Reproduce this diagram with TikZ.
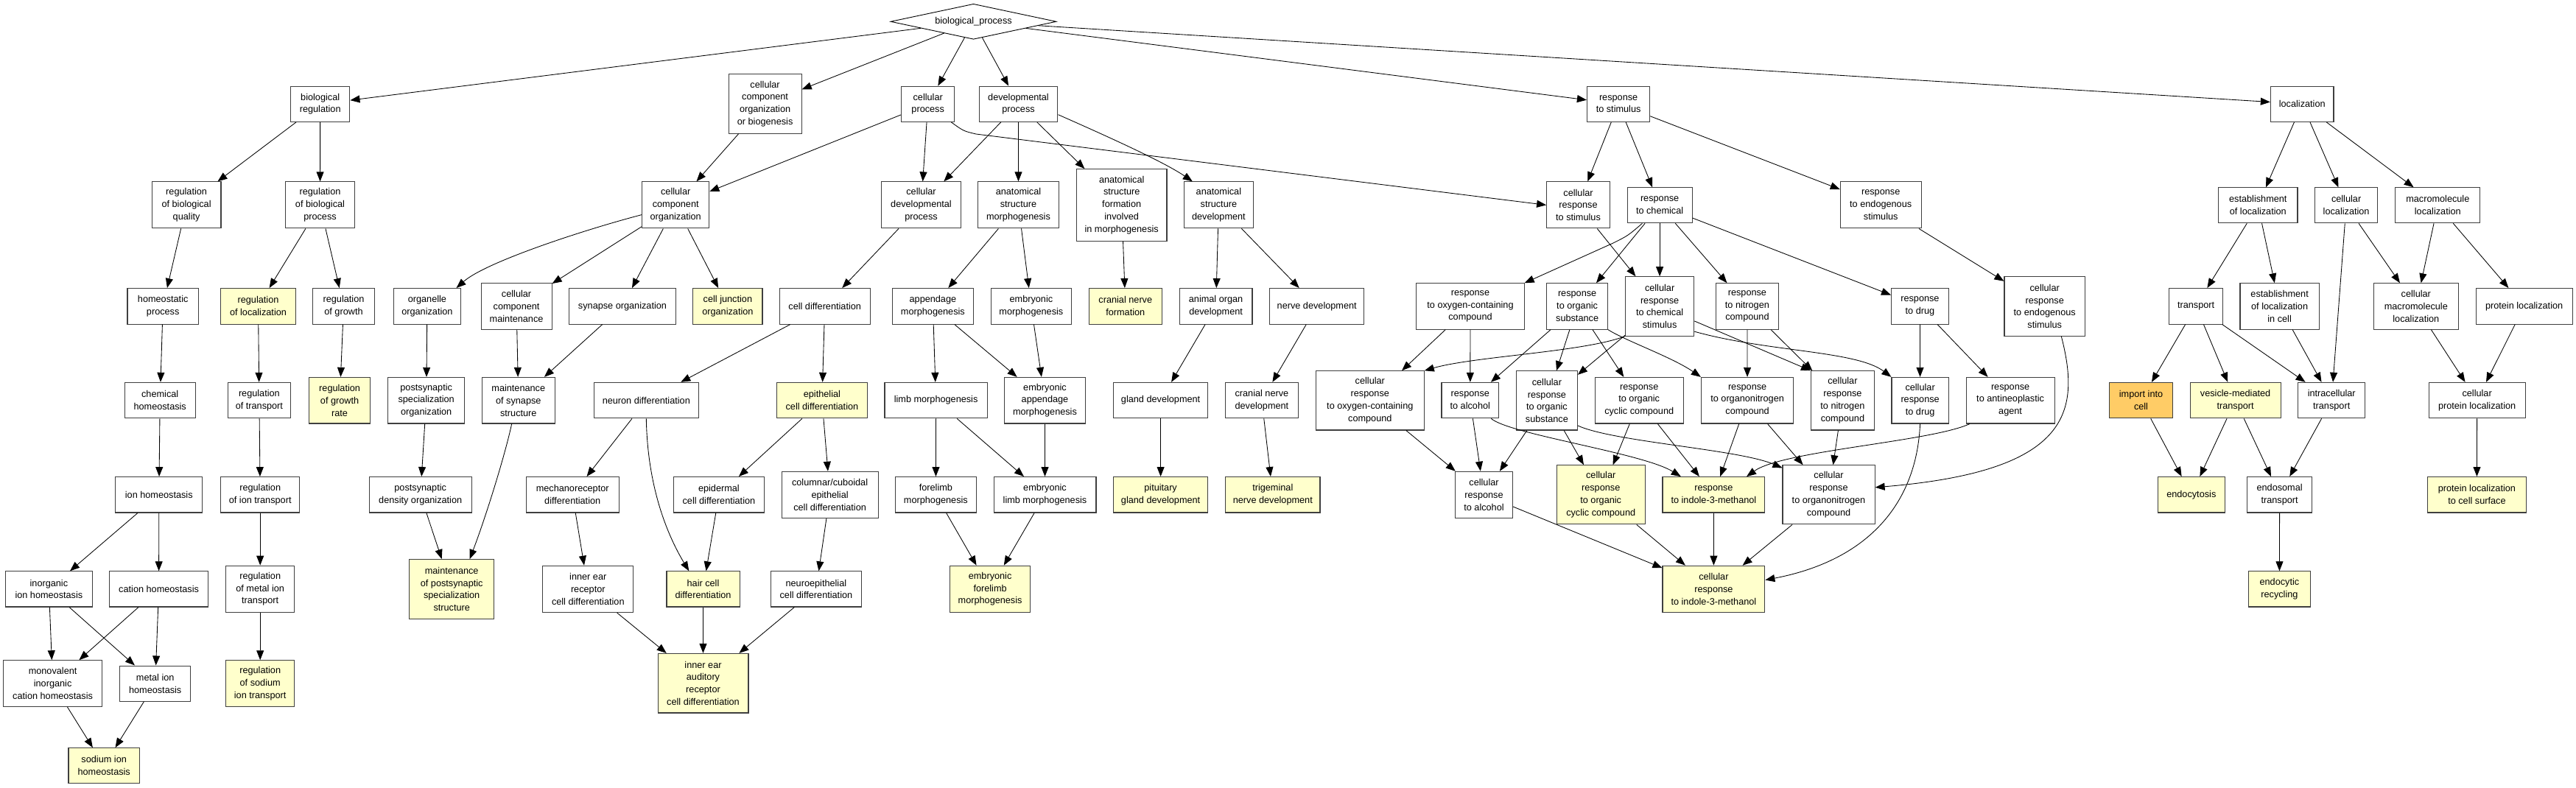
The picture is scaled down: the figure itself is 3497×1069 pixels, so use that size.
\documentclass[tikz,border=0pt]{standalone}
\usepackage{fontspec}
\setmainfont{Liberation Sans}
\usepackage{xcolor}
\usepackage{tikz}
\usetikzlibrary{arrows.meta,shapes.geometric}

\definecolor{termline}{HTML}{3F3F3F}
\definecolor{hitfill}{HTML}{FFFFCC}
\definecolor{bestfill}{HTML}{FFCC66}

\begin{document}
\begin{tikzpicture}[x=1pt, y=-1pt,
  goterm/.style={draw=termline, line width=1.1pt, fill=white, align=center, inner sep=1pt,
    font=\fontsize{12.7}{16.8}\selectfont},
  hit/.style={goterm, fill=hitfill},
  besthit/.style={goterm, fill=bestfill},
  isa/.style={line width=0.85pt, -{Triangle[length=13pt,width=10pt]}}]
\useasboundingbox (0,0) rectangle (3497,1069);

\node[diamond, draw, line width=0.9pt, aspect=4.7, minimum width=225pt, minimum height=48pt,
  inner sep=0pt, font=\fontsize{12.7}{16.8}\selectfont] (bp) at (1321.5,29.3) {biological\_process};

\foreach \n/\x/\y/\w/\h/\t in {
    bioreg/434.7/141.2/80.4/48.2/biological\\regulation,
    ccob/1038.6/141.0/99.1/80.2/cellular\\component\\organization\\or biogenesis,
    cp/1259.7/141.2/72.3/48.2/cellular\\process,
    dev/1382.5/141.2/106.8/48.2/developmental\\process,
    rs/2197.1/141.2/85.3/48.2/response\\to stimulus,
    loc/3125.2/141.2/85.6/48.2/localization,
    rbq/253.1/278.4/93.8/63/regulation\\of biological\\quality,
    rbp/434.5/278.4/93.8/63/regulation\\of biological\\process,
    cco/917.2/278.4/91.1/63/cellular\\component\\organization,
    cdp/1250.5/278.4/107.5/63/cellular\\developmental\\process,
    asm/1382.5/278.4/109.8/63/anatomical\\structure\\morphogenesis,
    asf/1522.7/278.4/122.5/97.5/anatomical\\structure\\formation\\involved\\in morphogenesis,
    asd/1654.4/278.4/93.4/63/anatomical\\structure\\development,
    crs/2142.5/278.4/85.7/63/cellular\\response\\to stimulus,
    rc/2253.1/278.8/88/47.9/response\\to chemical,
    res/2553.2/278.4/109.8/63/response\\to endogenous\\stimulus,
    estl/3065.3/278.8/107.3/47.9/establishment\\of localization,
    cloc/3185.1/278.8/85.3/47.9/cellular\\localization,
    mloc/3309.3/278.8/115/47.9/macromolecule\\localization,
    homeo/221.2/415.8/96.4/48.5/homeostatic\\process,
    rgrow/466.5/415.8/83.4/48.5/regulation\\of growth,
    orgorg/579.9/415.8/90.6/48.5/organelle\\organization,
    ccm/701.1/415.9/96/62.3/cellular\\component\\maintenance,
    synorg/845/415.8/144.2/48.5/synapse organization,
    celld/1119.7/415.8/122.7/48.5/cell differentiation,
    appm/1266.4/415.8/109.4/48.5/appendage\\morphogenesis,
    embm/1399.9/415.8/109.4/48.5/embryonic\\morphogenesis,
    aod/1650.6/415.8/98.7/48.5/animal organ\\development,
    nerved/1787.7/415.8/128/48.5/nerve development,
    roxy/1996/415.9/146.2/62.3/response\\to oxygen-containing\\compound,
    ros/2141.1/415.9/82.7/62.3/response\\to organic\\substance,
    crcs/2253.1/415.9/93.3/80.3/cellular\\response\\to chemical\\stimulus,
    rnc/2371.9/415.9/85.3/62.3/response\\to nitrogen\\compound,
    rd/2606.4/415.8/77.7/48.5/response\\to drug,
    cres/2775.7/415.9/109.5/80.3/cellular\\response\\to endogenous\\stimulus,
    trans/2981.1/415.8/72.4/48.5/transport,
    estlc/3094.6/415.9/107.3/62.3/establishment\\of localization\\in cell,
    cmloc/3279.8/415.9/114.6/62.3/cellular\\macromolecule\\localization,
    protl/3426.6/415.8/130.9/48.5/protein localization,
    chemh/217.2/543.6/96/48.5/chemical\\homeostasis,
    rtrans/351.9/543.6/85.3/48.5/regulation\\of transport,
    pso/578.7/543.7/103.6/62.6/postsynaptic\\specialization\\organization,
    mss/703.8/543.7/99.1/62.6/maintenance\\of synapse\\structure,
    neurd/877.3/543.6/141.6/48.5/neuron differentiation,
    limbm/1270.6/543.6/139.3/48.5/limb morphogenesis,
    embam/1418.5/543.7/109.8/62.6/embryonic\\appendage\\morphogenesis,
    glandd/1575.6/543.6/128.6/48.5/gland development,
    cnd/1712.9/543.6/98.6/48.5/cranial nerve\\development,
    crocc/1859.8/543.9/146.9/80.2/cellular\\response\\to oxygen-containing\\compound,
    ra/1995.8/543.6/77.6/48.5/response\\to alcohol,
    cros/2099.9/543.9/83/80.2/cellular\\response\\to organic\\substance,
    rocc/2225.2/543.7/120.2/62.6/response\\to organic\\cyclic compound,
    ronc/2372.1/543.7/125.4/62.6/response\\to organonitrogen\\compound,
    crnc/2501.4/543.9/85.7/80.2/cellular\\response\\to nitrogen\\compound,
    crd/2606.6/543.7/77.3/62.6/cellular\\response\\to drug,
    rant/2729.1/543.7/120.1/62.6/response\\to antineoplastic\\agent,
    itr/3165.2/543.6/91/48.5/intracellular\\transport,
    cprotl/3362.6/543.6/131/48.5/cellular\\protein localization,
    ionh/215.8/671.8/117.8/48.4/ion homeostasis,
    riont/353.2/671.8/107.2/48.4/regulation\\of ion transport,
    psd/570.7/671.8/138.8/48.4/postsynaptic\\density organization,
    mechd/777.2/671.8/125.9/48.4/mechanoreceptor\\differentiation,
    epidd/975.9/671.8/122.9/48.4/epidermal\\cell differentiation,
    colcd/1126.6/671.8/131.1/63/columnar\slash cuboidal\\epithelial\\cell differentiation,
    forem/1270.4/671.8/109.8/48.4/forelimb\\morphogenesis,
    emblm/1418.5/671.8/138.9/48.4/embryonic\\limb morphogenesis,
    cra/2014.5/671.8/77.7/63/cellular\\response\\to alcohol,
    crono/2482.5/671.8/125.1/80.1/cellular\\response\\to organonitrogen\\compound,
    endos/3094.6/671.8/88.3/48.4/endosomal\\transport,
    inorg/66.4/799.9/117.4/48.1/inorganic\\ion homeostasis,
    cath/215.6/799.9/133.5/48.1/cation homeostasis,
    rmetal/353.2/799.8/93.4/63.3/regulation\\of metal ion\\transport,
    ierd/798.3/799.9/122.8/63.3/inner ear\\receptor\\cell differentiation,
    neped/1107.9/799.9/122.8/48.1/neuroepithelial\\cell differentiation,
    monov/71.6/928.1/133.9/62.6/monovalent\\inorganic\\cation homeostasis,
    metalh/210.7/928.1/96.1/48.1/metal ion\\homeostasis}
  \node[goterm, minimum width=\w pt, minimum height=\h pt] (\n) at (\x,\y) {\t};

\foreach \n/\x/\y/\w/\h/\t in {
    rloc/350.5/415.8/101.8/48.5/regulation\\of localization,
    cjo/987.9/415.8/94.2/48.5/cell junction\\organization,
    cnf/1527.8/415.8/98.7/48.5/cranial nerve\\formation,
    rgrate/461.1/543.7/82.6/62.6/regulation\\of growth\\rate,
    epid/1115.9/543.6/122.8/48.5/epithelial\\cell differentiation,
    ves/3034.6/543.6/123/48.5/vesicle-mediated\\transport,
    pitd/1575.6/671.8/128.6/48.4/pituitary\\gland development,
    trigd/1727.8/671.8/128.4/48.4/trigeminal\\nerve development,
    crocyc/2173.2/671.8/120.2/80.1/cellular\\response\\to organic\\cyclic compound,
    ri3m/2326.4/671.8/138.8/48.4/response\\to indole-3-methanol,
    endoc/2974.8/671.8/91/48.4/endocytosis,
    plcs/3362.4/671.8/133.6/48.4/protein localization\\to cell surface,
    mpss/613.2/799.9/115.1/80.5/maintenance\\of postsynaptic\\specialization\\structure,
    hcd/954.5/799.9/99.1/48.1/hair cell\\differentiation,
    embfm/1344.1/799.9/109.5/63.3/embryonic\\forelimb\\morphogenesis,
    cri3m/2326.4/799.9/138.8/63.3/cellular\\response\\to indole-3-methanol,
    endrec/3094.4/799.9/83.4/48.1/endocytic\\recycling,
    rsod/353.2/928.1/93.4/62.6/regulation\\of sodium\\ion transport,
    iard/954.5/927.7/122.9/80.5/inner ear\\auditory\\receptor\\cell differentiation,
    sodh/141.2/1039.8/96.4/48.1/sodium ion\\homeostasis}
  \node[hit, minimum width=\w pt, minimum height=\h pt] (\n) at (\x,\y) {\t};

\node[besthit, minimum width=85.3pt, minimum height=48.5pt] (imp) at (2906.5,543.6) {import into\\cell};

\foreach \a/\b in {bp/bioreg, bp/ccob, bp/cp, bp/dev, bp/rs, bp/loc,
    bioreg/rbq, bioreg/rbp, rbq/homeo, rbp/rloc, rbp/rgrow, homeo/chemh, rloc/rtrans,
    rgrow/rgrate, orgorg/pso, chemh/ionh, rtrans/riont, pso/psd, ionh/inorg, ionh/cath,
    riont/rmetal, psd/mpss, inorg/monov, inorg/metalh, cath/monov, cath/metalh,
    rmetal/rsod, monov/sodh, metalh/sodh,
    ccob/cco, cp/cco, cco/ccm, cco/synorg, cco/cjo, ccm/mss, synorg/mss, cdp/celld,
    celld/neurd, celld/epid, neurd/mechd, epid/epidd, epid/colcd, mechd/ierd, epidd/hcd,
    colcd/neped, ierd/iard, hcd/iard, neped/iard,
    cp/cdp, dev/cdp, dev/asm, dev/asf, asm/appm, asm/embm, asf/cnf, asd/aod, asd/nerved,
    appm/limbm, appm/embam, embm/embam, aod/glandd, nerved/cnd, limbm/forem, limbm/emblm,
    embam/emblm, glandd/pitd, cnd/trigd, forem/embfm, emblm/embfm,
    rs/crs, rs/rc, rs/res, crs/crcs, rc/ros, rc/crcs, rc/rnc, rc/rd, res/cres,
    roxy/crocc, roxy/ra, ros/ra, ros/cros, ros/rocc, crcs/cros, rnc/ronc, rnc/crnc,
    rd/crd, rd/rant, crocc/cra, ra/cra, cros/cra, cros/crocyc, rocc/crocyc, rocc/ri3m,
    ronc/ri3m, ronc/crono, crnc/crono, ri3m/cri3m, crono/cri3m, crocyc/cri3m, cra/cri3m,
    loc/estl, loc/cloc, loc/mloc, estl/trans, estl/estlc, cloc/itr, cloc/cmloc,
    mloc/cmloc, mloc/protl, trans/imp, trans/ves, trans/itr, estlc/itr, cmloc/cprotl,
    protl/cprotl, imp/endoc, ves/endoc, ves/endos, itr/endos, cprotl/plcs, endos/endrec}
  \draw[isa] (\a) -- (\b);

\draw[isa] (crcs) -- (crnc.north west);
\draw[isa] (cp.-38) .. controls (1308,178) .. (1325,182) -- (crs.west);
\draw[isa] (dev.-15) .. controls (1496,182) and (1579,219) .. (asd.138);
\draw[isa] (cco.196) .. controls (800,310) and (660,355) .. (orgorg.32);
\draw[isa] (neurd.south) .. controls (879,660) and (905,725) .. (hcd.128);
\draw[isa] (mss.-106) .. controls (687,612) and (662,695) .. (mpss.59);
\draw[isa] (crcs.south west) .. controls (2150,478) and (2000,484) .. (crocc.north east);
\draw[isa] (rc.-134) .. controls (2210,320) .. (2190,330) -- (roxy.north east);
\draw[isa] (ros.south east) .. controls (2205,462) and (2270,485) .. (ronc.north west);
\draw[isa] (ra.-41) .. controls (2050,590) and (2230,615) .. (ri3m.151);
\draw[isa] (cros.-39) .. controls (2190,600) and (2360,610) .. (crono.150);
\draw[isa] (rant.-150) .. controls (2620,600) and (2420,612) .. (ri3m.29);
\draw[isa] (cres.-61) .. controls (2825,560) and (2810,640) .. (crono.9);
\draw[isa] (crd.south) .. controls (2602,680) and (2540,760) .. (cri3m.10);
\draw[isa] (crcs.-36) .. controls (2400,478) and (2520,476) .. (crd.north west);

\end{tikzpicture}
\end{document}
